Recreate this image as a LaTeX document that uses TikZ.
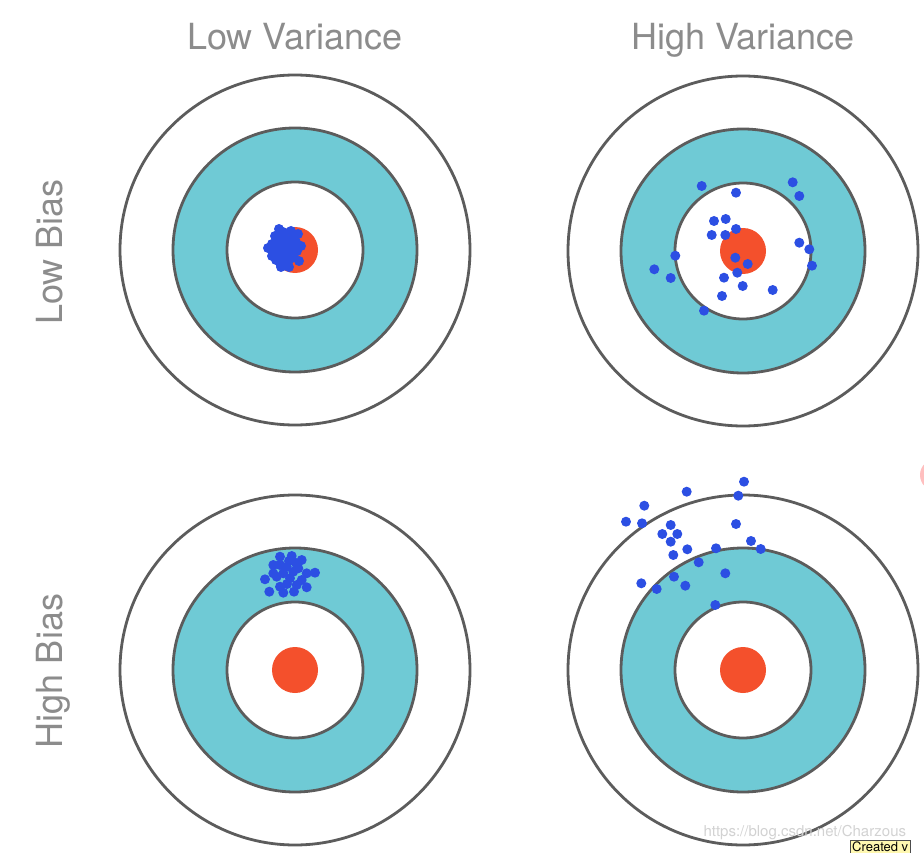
\documentclass[tikz,border=0pt]{standalone}
\usepackage{fontspec}
\setmainfont{TeX Gyre Heros}
\usetikzlibrary{positioning}
\definecolor{ringteal}{HTML}{6FCAD5}
\definecolor{bullred}{HTML}{F4502C}
\definecolor{dotblue}{HTML}{2C4FE3}
\definecolor{rimgray}{HTML}{5C5C5C}
\definecolor{labelgray}{HTML}{8C8C8C}
\definecolor{tagyellow}{HTML}{FFF8B0}

% one dartboard round a named centre
\newcommand{\drawtarget}[1]{%
  \draw[outerdisc] (#1) circle (175pt);
  \draw[tealdisc] (#1) circle (122pt);
  \draw[innerdisc] (#1) circle (68pt);
  \fill[bulldisc] (#1) circle (23pt);
}

\begin{document}
\begin{tikzpicture}[x=1pt, y=-1pt]
    \tikzset{
        rim/.style={draw=rimgray, line width=2.8pt},
        outerdisc/.style={rim, fill=white},
        tealdisc/.style={rim, fill=ringteal},
        innerdisc/.style={rim, fill=white},
        bulldisc/.style={fill=bullred},
        hit/.style={fill=dotblue},
        heading/.style={font=\fontsize{36}{40}\selectfont, text=labelgray, anchor=base},
        watermark/.style={font=\fontsize{15}{18}\selectfont, text=gray!35}
    }
    \useasboundingbox (0,0) rectangle (924,853);

    \coordinate (lowlow) at (295,250);
    \coordinate (lowhigh) at (743,251);
    \coordinate (highlow) at (295,670);
    \coordinate (highhigh) at (743,670);

    % headings
    \node[heading] (lowvar) at (295,50) {Low Variance};
    \node[heading] (highvar) at (743,50) {High Variance};
    \node[heading, rotate=90] (lowbias) at (62,252) {Low Bias};
    \node[heading, rotate=90] (highbias) at (62,671) {High Bias};

    % low bias, low variance
    \begin{scope}
        \drawtarget{lowlow}
        \foreach \p in {(275,236),(283,232),(291,231),(298,234),(272,244),(280,241),
                        (288,240),(296,242),(273,252),(281,250),(289,249),(297,251),
                        (276,260),(284,258),(292,258),(299,261),(281,267),(289,267),
                        (279,229),(268,248),(277,246),(285,245),(293,246),(278,255),
                        (286,254),(294,254),(280,263),(288,262),(284,237),(293,237),
                        (272,256),(301,246)}
            \fill[hit] \p circle (5pt);
    \end{scope}

    % low bias, high variance
    \begin{scope}
        \drawtarget{lowhigh}
        \foreach \p in {(701.7,186),(736,192.7),(792.7,182.3),(799.3,196),(714,221),
                        (725.7,219),(711.7,235),(725.3,235),(736,229),(799.3,242.7),
                        (809.3,249.3),(812,265.7),(675.3,255.7),(654.3,269.3),(670.7,278),
                        (735.3,257.7),(747.7,264),(737.3,272.7),(724,277.7),(742.7,286),
                        (772.7,290),(722,296),(704,310.7)}
            \fill[hit] \p circle (5pt);
    \end{scope}

    % high bias, low variance
    \begin{scope}
        \drawtarget{highlow}
        \foreach \p in {(280,556.7),(291.7,556),(301.7,560),(273.3,565),(286.7,566.7),
                        (298.3,568.3),(315,572.7),(265,579.3),(276.7,576.7),(290,578.3),
                        (301.7,580),(280,586.7),(306.7,587.3),(269.3,591.7),(283.3,592.7),
                        (294,591.7),(273.3,573.3),(293.3,571.7),(283.3,573.3),(306.7,573.3),
                        (296.7,585),(280,565),(289,561),(296,563),(287,584)}
            \fill[hit] \p circle (5pt);
    \end{scope}

    % high bias, high variance
    \begin{scope}
        \drawtarget{highhigh}
        \foreach \p in {(744,481.7),(686.7,491.7),(738.3,495.7),(644.3,505.7),(626,521.7),
                        (642,523.3),(670.7,525),(662.3,534),(677.3,534),(736,524),
                        (670.7,541.7),(687.3,549.3),(673.3,555),(716,548.3),(751,541),
                        (760.7,549),(698.7,562.3),(725.3,573.3),(674,576.7),(641.3,583.3),
                        (656.7,589),(685.3,585.7),(715.3,605)}
            \fill[hit] \p circle (5pt);
    \end{scope}

    % screen leftovers
    \fill[red!25] (936,475) circle (16pt);
    \node[watermark, anchor=west] (mark) at (700,833) {https://blog.csdn.net/Charzous};
    \node[draw=black!70, fill=tagyellow, anchor=north west, inner sep=2pt,
          font=\fontsize{13}{15}\selectfont] (tag) at (850,840) {Created v};
\end{tikzpicture}
\end{document}
